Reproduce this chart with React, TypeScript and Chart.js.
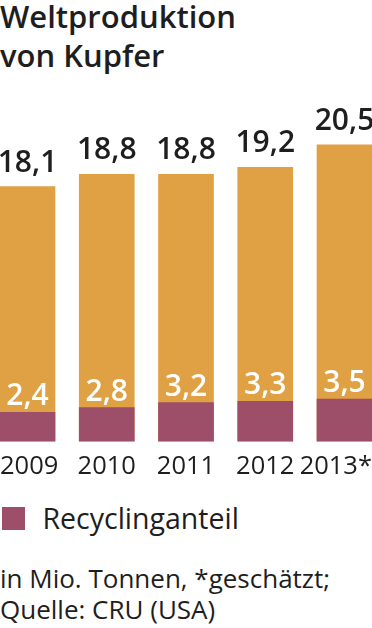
import React, { useEffect, useRef } from "react";
import { Chart, registerables } from "chart.js";

Chart.register(...registerables);

// ---- data ----
const years = ["2009", "2010", "2011", "2012", "2013*"];
const totalProduction = [18.1, 18.8, 18.8, 19.2, 20.5];
const recyclingShare = [2.4, 2.8, 3.2, 3.3, 3.5];

const ORANGE = "#E0A044";
const PURPLE = "#9D4E69";
const TEXT = "#1e1e1e";
const FONT = "'Open Sans', 'Noto Sans', sans-serif";

function fmt(v: number): string {
  return v.toFixed(1).replace(".", ",");
}

const valueLabels = {
  id: "valueLabels",
  afterDatasetsDraw(chart: any) {
    const ctx = chart.ctx;
    const recMeta = chart.getDatasetMeta(0);
    const totMeta = chart.getDatasetMeta(1);
    ctx.save();
    ctx.font = `600 30px ${FONT}`;
    ctx.textAlign = "center";
    ctx.textBaseline = "alphabetic";
    totMeta.data.forEach((bar: any, i: number) => {
      ctx.fillStyle = TEXT;
      ctx.fillText(fmt(totalProduction[i]), bar.x, bar.y - 15);
    });
    recMeta.data.forEach((bar: any, i: number) => {
      ctx.fillStyle = "#ffffff";
      ctx.fillText(fmt(recyclingShare[i]), bar.x, bar.y - 7);
    });
    ctx.restore();
  },
};

export default function App() {
  const canvasRef = useRef<HTMLCanvasElement | null>(null);

  useEffect(() => {
    document.body.style.margin = "0";
    const canvas = canvasRef.current;
    if (!canvas) return;
    const chart = new Chart(canvas, {
      type: "bar",
      data: {
        datasets: [
          {
            label: "Recyclinganteil",
            data: recyclingShare.map((v, i) => ({ x: i, y: v })),
            backgroundColor: PURPLE,
            yAxisID: "yRec",
            grouped: false,
            barThickness: 55,
          } as any,
          {
            label: "Weltproduktion",
            data: totalProduction.map((v, i) => ({ x: i, y: v })),
            backgroundColor: ORANGE,
            yAxisID: "yTotal",
            grouped: false,
            barThickness: 55,
          } as any,
        ],
      },
      options: {
        animation: false,
        responsive: false,
        maintainAspectRatio: false,
        layout: { padding: 0 },
        plugins: {
          legend: { display: false },
          tooltip: { enabled: false },
          title: { display: false },
        },
        scales: {
          x: {
            type: "linear",
            min: -0.347,
            max: 4.347,
            offset: false,
            grid: { display: false, drawTicks: false },
            border: { display: false },
            afterBuildTicks: (axis: any) => {
              axis.ticks = years.map((_, i) => ({
                value: i === 0 ? axis.min : i === years.length - 1 ? axis.max : i,
              }));
            },
            ticks: {
              autoSkip: false,
              maxRotation: 0,
              minRotation: 0,
              align: "inner",
              padding: 10,
              color: TEXT,
              font: { family: FONT, size: 25.5 },
              callback: (_v: any, i: number) => years[i],
            },
          } as any,
          yTotal: { display: false, min: 3.52, max: 23.06 },
          yRec: { display: false, min: 0, max: 28.2 },
        },
      },
      plugins: [valueLabels],
    });
    return () => chart.destroy();
  }, []);

  return (
    <div
      style={{
        position: "relative",
        width: 372,
        height: 628,
        overflow: "hidden",
        background: "#ffffff",
        fontFamily: FONT,
        color: TEXT,
      }}
    >
      <div
        style={{
          position: "absolute",
          left: 0,
          top: -3.2,
          fontSize: 31,
          lineHeight: "39px",
          fontWeight: 600,
          whiteSpace: "nowrap",
        }}
      >
        Weltproduktion
        <br />
        von Kupfer
      </div>
      <canvas
        ref={canvasRef}
        width={392}
        height={392}
        style={{ position: "absolute", left: -10, top: 100, width: 392, height: 392 }}
      />
      <div
        style={{
          position: "absolute",
          left: 1.7,
          top: 506.7,
          width: 23.3,
          height: 23.3,
          background: PURPLE,
        }}
      />
      <div
        style={{
          position: "absolute",
          left: 42.5,
          top: 503.5,
          fontSize: 28.5,
          lineHeight: "28.5px",
          whiteSpace: "nowrap",
        }}
      >
        Recyclinganteil
      </div>
      <div
        style={{
          position: "absolute",
          left: 0,
          top: 562.7,
          fontSize: 26,
          lineHeight: "31px",
          whiteSpace: "nowrap",
        }}
      >
        in Mio. Tonnen, *geschätzt;
        <br />
        Quelle: CRU (USA)
      </div>
    </div>
  );
}
